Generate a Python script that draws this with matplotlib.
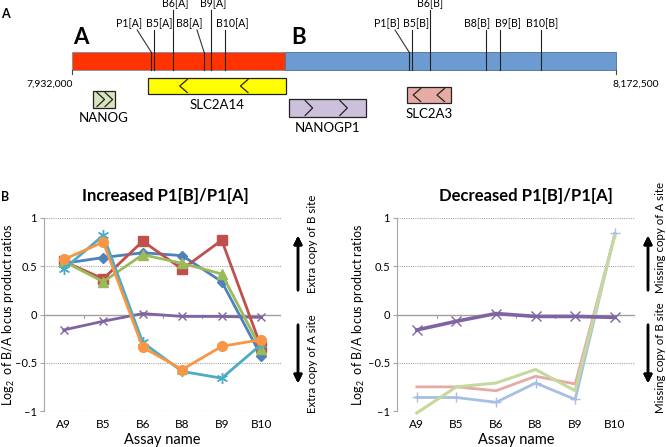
import matplotlib.pyplot as plt
import numpy as np

plt.rcParams['font.family'] = ['Lato', 'DejaVu Sans']
plt.rcParams['mathtext.default'] = 'regular'

W, H = 666, 447

# ---- panel A: locus map ----
locus_start, locus_end = 7932000, 8172500
ab_boundary = 8026200

site_names = ['P1[A]', 'B5[A]', 'B6[A]', 'B8[A]', 'B9[A]', 'B10[A]',
              'P1[B]', 'B5[B]', 'B6[B]', 'B8[B]', 'B9[B]', 'B10[B]']
site_pos = [7967000, 7968250, 7976650, 7990360, 7993450, 7999640,
            8080990, 8082300, 8090270, 8115030, 8121220, 8139350]

gene_names = ['NANOG', 'SLC2A14', 'NANOGP1', 'SLC2A3']
gene_start = [7941300, 7965600, 8027900, 8080100]
gene_end = [7951000, 8026600, 8062000, 8099600]
gene_strand = ['+', '-', '+', '-']

# ---- panel B: log2 B/A ratios ----
assays = ['A9', 'B5', 'B6', 'B8', 'B9', 'B10']
control = [-0.16, -0.07, 0.01, -0.02, -0.02, -0.03]

inc_blue = [0.53, 0.59, 0.64, 0.61, 0.34, -0.43]
inc_red = [0.55, 0.37, 0.76, 0.47, 0.77, -0.34]
inc_green = [0.55, 0.34, 0.62, 0.53, 0.42, -0.36]
inc_cyan = [0.47, 0.82, -0.29, -0.59, -0.66, -0.31]
inc_orange = [0.57, 0.75, -0.34, -0.57, -0.33, -0.26]

dec_pink = [-0.75, -0.75, -0.79, -0.64, -0.72, 0.82]
dec_blue = [-0.86, -0.86, -0.91, -0.71, -0.88, 0.84]
dec_green = [-1.02, -0.75, -0.71, -0.57, -0.79, 0.82]

fig = plt.figure(figsize=(6.66, 4.47), dpi=100)


def fx(x):
    return x / W


def fy(y):
    return 1 - y / H


# map axes: genomic x, pixel y (top-down)
axm = fig.add_axes([0, 0, 1, 1])
axm.axis('off')
S = (locus_end - locus_start) / (616 - 72)
axm.set_xlim(locus_start - 72 * S, locus_start + (W - 72) * S)
axm.set_ylim(H, 0)

axm.barh(61, ab_boundary - locus_start, left=locus_start, height=18,
         color='#ff3300', edgecolor='#7f8fa6', linewidth=0.6)
axm.barh(61, locus_end - ab_boundary, left=ab_boundary, height=18,
         color='#6b9bd0', edgecolor='#4a6f9a', linewidth=0.6)
for g in (locus_start, locus_end):
    axm.plot([g, g], [70, 74], color='#444444', lw=0.8)
axm.text(locus_start - 22 * S, 84, '7,932,000', fontsize=7.5, ha='center', va='center')
axm.text(locus_end + 20 * S, 84, '8,172,500', fontsize=7.5, ha='center', va='center')
axm.text(locus_start + 9 * S, 37, 'A', fontsize=16, fontweight='bold', ha='center', va='center')
axm.text(ab_boundary + 13 * S, 37, 'B', fontsize=16, fontweight='bold', ha='center', va='center')

# label layout: (dx in px, row, diagonal)
site_layout = [(-22, 1, True), (5, 1, False), (2, 0, False), (-15, 1, True), (2, 0, False), (7, 1, False),
               (-22, 1, True), (4, 1, False), (0, 0, False), (-9, 1, False), (8, 1, False), (1, 1, False)]
for name, pos, (dx, row, diag) in zip(site_names, site_pos, site_layout):
    ly = 4 if row == 0 else 24
    top = ly + 6
    axm.text(pos + dx * S, ly, name, fontsize=7.6, ha='center', va='center')
    if diag:
        axm.plot([pos + (dx + 8) * S, pos], [top, 52], color='#333333', lw=0.8)
        axm.plot([pos, pos], [52, 70], color='#222222', lw=0.8)
    else:
        axm.plot([pos, pos], [top, 70], color='#222222', lw=0.8)

gene_colors = ['#d7e4bd', '#ffff00', '#ccc0da', '#e6aca4']
gene_rows = [(99.5, 17), (86, 16), (108, 18), (95, 16)]
gene_label_y = [118, 105, 128, 114]
chevrons = [[0.18, 0.55], [0.23, 0.67], [0.21, 0.66], [0.14, 0.68]]
for i, name in enumerate(gene_names):
    s, e = gene_start[i], gene_end[i]
    yc, h = gene_rows[i]
    axm.barh(yc, e - s, left=s, height=h, color=gene_colors[i],
             edgecolor='#222222', linewidth=0.9)
    cw = 7.5 * S
    for f in chevrons[i]:
        x0 = s + f * (e - s)
        if gene_strand[i] == '+':
            xs = [x0, x0 + cw, x0]
        else:
            xs = [x0 + cw, x0, x0 + cw]
        axm.plot(xs, [yc - h / 2 + 1.5, yc, yc + h / 2 - 1.5], color='#222222', lw=0.9)
    axm.text((s + e) / 2, gene_label_y[i], name, fontsize=9.5, ha='center', va='center')

fig.text(fx(5), fy(14), 'A', fontsize=9, fontweight='bold', ha='center', va='center')
fig.text(fx(5), fy(197), 'B', fontsize=9, fontweight='bold', ha='center', va='center')


def style_axes(ax):
    x = np.arange(len(assays))
    ax.set_xlim(-0.5, len(assays) - 0.5)
    ax.set_ylim(-1, 1)
    for sp in ['top', 'right', 'bottom']:
        ax.spines[sp].set_visible(False)
    ax.spines['left'].set_color('#a6a6a6')
    ax.spines['left'].set_linewidth(0.8)
    for yv in (-1, -0.5, 0.5, 1):
        ax.axhline(yv, color='#a6a6a6', lw=0.8, ls=(0, (1, 1)), zorder=0)
    ax.axhline(0, color='#a0a0a0', lw=1.0, zorder=1)
    for b in np.arange(-0.5, len(assays), 1.0):
        ax.plot([b, b], [0, -0.035], color='#a0a0a0', lw=0.8, zorder=1)
    ax.set_xticks(x)
    ax.set_xticklabels(assays, fontsize=8.5)
    ax.tick_params(axis='x', length=0, pad=6)
    ax.set_yticks([-1, -0.5, 0, 0.5, 1])
    ax.set_yticklabels(['\u20131', '\u20130.5', '0', '0.5', '1'], fontsize=8)
    ax.tick_params(axis='y', length=3, color='#a6a6a6', pad=2)
    ax.set_xlabel('Assay name', fontsize=10.5, labelpad=2)
    ax.set_ylabel('Log$_2$  of B/A locus product ratios', fontsize=9)
    return x


ax1 = fig.add_axes([fx(44), fy(411), 237 / W, 193 / H])
x = style_axes(ax1)
ax1.yaxis.set_label_coords(-0.115, 0.5)
ax1.plot(x, control, color='#8064a2', lw=2, marker='x', ms=6, mew=1, zorder=3, clip_on=False)
ax1.plot(x, inc_blue, color='#4f81bd', lw=2, marker='D', ms=5, zorder=4, clip_on=False)
ax1.plot(x, inc_red, color='#c0504d', lw=2, marker='s', ms=7, zorder=4, clip_on=False)
ax1.plot(x, inc_green, color='#9bbb59', lw=2, marker='^', ms=7, zorder=4, clip_on=False)
ax1.plot(x, inc_cyan, color='#4bacc6', lw=2, marker=(6, 2, 0), ms=8, mew=1, zorder=4, clip_on=False)
ax1.plot(x, inc_orange, color='#f79646', lw=2, marker='o', ms=7, zorder=5, clip_on=False)

ax2 = fig.add_axes([fx(397), fy(411), 237.6 / W, 193 / H])
x = style_axes(ax2)
ax2.yaxis.set_label_coords(-0.125, 0.5)
ax2.plot(x, dec_pink, color='#e6a9a8', lw=2, zorder=3, clip_on=False)
ax2.plot(x, dec_blue, color='#a7bfe3', lw=2, marker='+', ms=7, mew=1, zorder=3, clip_on=False)
ax2.plot(x, dec_green, color='#c4d99d', lw=2.2, zorder=4, clip_on=False)
ax2.plot(x, control, color='#8064a2', lw=2.6, marker='x', ms=7, mew=1, zorder=5, clip_on=False)

fig.text(fx(165), fy(196), 'Increased P1[B]/P1[A]', fontsize=12, fontweight='bold', ha='center', va='center')
fig.text(fx(526), fy(196), 'Decreased P1[B]/P1[A]', fontsize=12, fontweight='bold', ha='center', va='center')

arrow = dict(arrowstyle='-|>', lw=1.8, color='black', mutation_scale=12)
for xa, txt_up, txt_dn, xt in [(298, 'Extra copy of B site', 'Extra copy of A site', 313),
                               (648, 'Missing copy of A site', 'Missing copy of B site', 661)]:
    fig.add_artist(plt.annotate('', xy=(fx(xa), fy(233)), xytext=(fx(xa), fy(293)),
                                xycoords='figure fraction', arrowprops=arrow))
    fig.add_artist(plt.annotate('', xy=(fx(xa), fy(386)), xytext=(fx(xa), fy(322)),
                                xycoords='figure fraction', arrowprops=arrow))
    fig.text(fx(xt), fy(293), txt_up, fontsize=8.3, rotation=90, ha='center', va='bottom')
    fig.text(fx(xt), fy(413), txt_dn, fontsize=8.3, rotation=90, ha='center', va='bottom')

fig.savefig('out.png', dpi=100)
